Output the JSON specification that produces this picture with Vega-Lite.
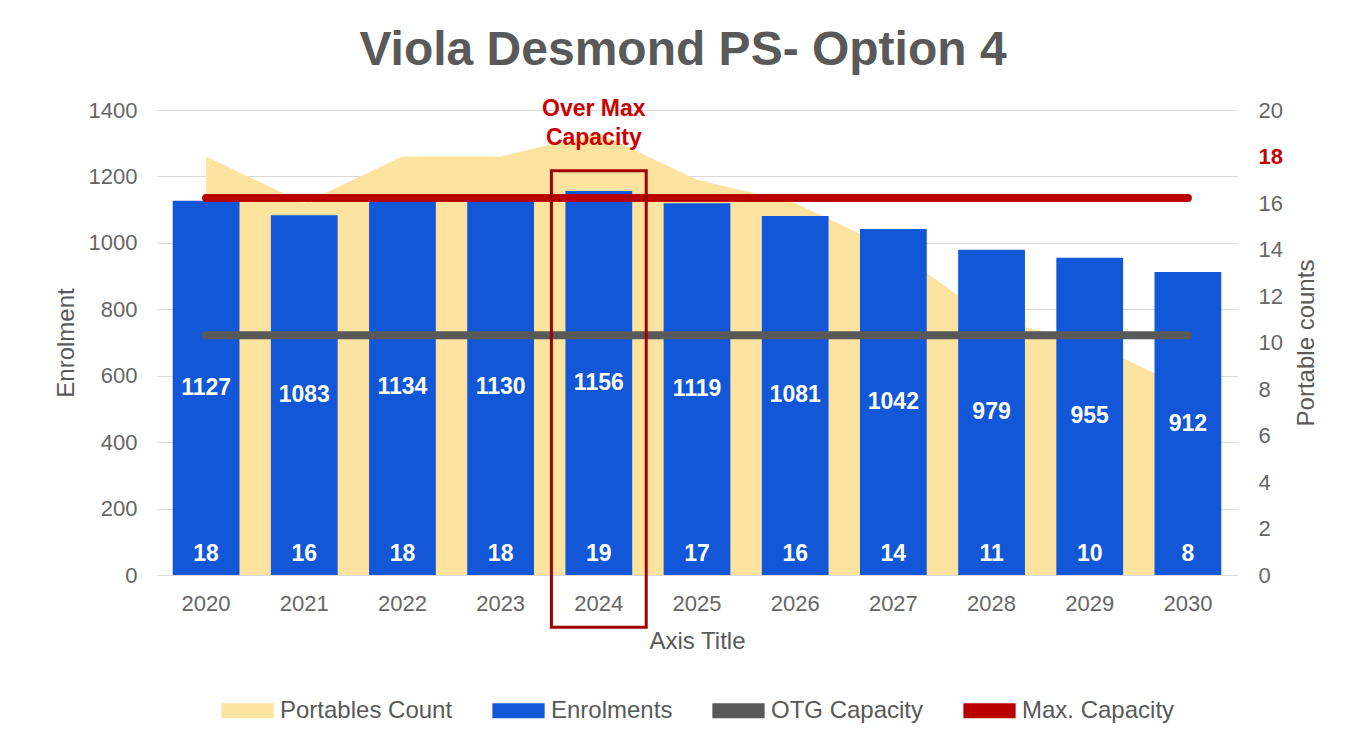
{
  "$schema": "https://vega.github.io/schema/vega-lite/v6.json",
  "width": 1080,
  "height": 465,
  "autosize": {"type": "none"},
  "padding": {"left": 157, "top": 110, "right": 114, "bottom": 171},
  "background": "white",
  "config": {
    "font": "Liberation Sans",
    "view": {"stroke": null},
    "axis": {"labelFont": "Liberation Sans", "titleFont": "Liberation Sans", "labelColor": "#666666", "titleColor": "#595959", "titleFontWeight": "normal", "domain": false, "ticks": false},
    "legend": {"labelFont": "Liberation Sans", "labelFontSize": 24, "labelColor": "#595959", "labelLimit": 400, "orient": "bottom", "direction": "horizontal", "symbolSize": 3025, "symbolStrokeWidth": 0, "labelOffset": 5, "columnPadding": 38, "offset": 30, "title": null, "layout": {"anchor": "middle"}}
  },
  "title": {
    "text": "Viola Desmond PS- Option 4",
    "font": "Liberation Sans",
    "fontSize": 48,
    "fontWeight": "bold",
    "color": "#595959",
    "anchor": "middle",
    "frame": "group",
    "dx": -14,
    "offset": 23
  },
  "datasets": {
    "years": [
      {"year": "2020", "enrol": 1127, "portables": 18},
      {"year": "2021", "enrol": 1083, "portables": 16},
      {"year": "2022", "enrol": 1134, "portables": 18},
      {"year": "2023", "enrol": 1130, "portables": 18},
      {"year": "2024", "enrol": 1156, "portables": 19},
      {"year": "2025", "enrol": 1119, "portables": 17},
      {"year": "2026", "enrol": 1081, "portables": 16},
      {"year": "2027", "enrol": 1042, "portables": 14},
      {"year": "2028", "enrol": 979, "portables": 11},
      {"year": "2029", "enrol": 955, "portables": 10},
      {"year": "2030", "enrol": 912, "portables": 8}
    ],
    "caps": [
      {"year": "2020", "series": "OTG Capacity", "value": 722},
      {"year": "2021", "series": "OTG Capacity", "value": 722},
      {"year": "2022", "series": "OTG Capacity", "value": 722},
      {"year": "2023", "series": "OTG Capacity", "value": 722},
      {"year": "2024", "series": "OTG Capacity", "value": 722},
      {"year": "2025", "series": "OTG Capacity", "value": 722},
      {"year": "2026", "series": "OTG Capacity", "value": 722},
      {"year": "2027", "series": "OTG Capacity", "value": 722},
      {"year": "2028", "series": "OTG Capacity", "value": 722},
      {"year": "2029", "series": "OTG Capacity", "value": 722},
      {"year": "2030", "series": "OTG Capacity", "value": 722},
      {"year": "2020", "series": "Max. Capacity", "value": 1135},
      {"year": "2021", "series": "Max. Capacity", "value": 1135},
      {"year": "2022", "series": "Max. Capacity", "value": 1135},
      {"year": "2023", "series": "Max. Capacity", "value": 1135},
      {"year": "2024", "series": "Max. Capacity", "value": 1135},
      {"year": "2025", "series": "Max. Capacity", "value": 1135},
      {"year": "2026", "series": "Max. Capacity", "value": 1135},
      {"year": "2027", "series": "Max. Capacity", "value": 1135},
      {"year": "2028", "series": "Max. Capacity", "value": 1135},
      {"year": "2029", "series": "Max. Capacity", "value": 1135},
      {"year": "2030", "series": "Max. Capacity", "value": 1135}
    ],
    "notes": [
      {"year": "2024", "label": "Over Max\nCapacity"}
    ]
  },
  "encoding": {
    "x": {
      "field": "year",
      "type": "ordinal",
      "title": "Axis Title",
      "scale": {"paddingInner": 0.32, "paddingOuter": 0.16},
      "axis": {"labelAngle": 0, "labelFontSize": 22, "labelPadding": 18, "titleFontSize": 24, "titlePadding": 15}
    }
  },
  "layer": [
    {
      "data": {"name": "years"},
      "mark": {"type": "area", "color": "#fce3a0", "opacity": 1},
      "encoding": {
        "y": {
          "field": "portables",
          "type": "quantitative",
          "title": "Portable counts",
          "scale": {"domain": [0, 20], "nice": false},
          "axis": {
            "orient": "right",
            "values": [0, 2, 4, 6, 8, 10, 12, 14, 16, 18, 20],
            "grid": false,
            "labelFontSize": 22,
            "labelPadding": 21,
            "labelColor": {"condition": {"test": "datum.value == 18", "value": "#c00000"}, "value": "#666666"},
            "labelFontWeight": {"condition": {"test": "datum.value == 18", "value": "bold"}, "value": "normal"},
            "titleFontSize": 24,
            "titleAngle": -90,
            "titleBaseline": "top",
            "titlePadding": 12
          }
        },
        "color": {
          "datum": "Portables Count",
          "type": "nominal",
          "scale": {"domain": ["Portables Count", "Enrolments", "OTG Capacity", "Max. Capacity"], "range": ["#fce3a0", "#1157d8", "#595959", "#b80000"]},
          "legend": {
            "symbolType": "M-0.95,-0.27H0.95V0.27H-0.95Z",
            "encode": {
              "symbols": {
                "enter": {
                  "shape": {"signal": "datum.value == 'OTG Capacity' || datum.value == 'Max. Capacity' ? 'M-1,-0.14H1V0.14H-1Z' : 'M-0.95,-0.27H0.95V0.27H-0.95Z'"}
                },
                "update": {
                  "shape": {"signal": "datum.value == 'OTG Capacity' || datum.value == 'Max. Capacity' ? 'M-1,-0.14H1V0.14H-1Z' : 'M-0.95,-0.27H0.95V0.27H-0.95Z'"}
                }
              }
            }
          }
        }
      }
    },
    {
      "layer": [
        {
          "data": {"name": "years"},
          "mark": {"type": "bar", "color": "#1157d8"},
          "encoding": {
            "y": {
              "field": "enrol",
              "type": "quantitative",
              "title": "Enrolment",
              "scale": {"domain": [0, 1400], "nice": false},
              "axis": {
                "orient": "left",
                "values": [0, 200, 400, 600, 800, 1000, 1200, 1400],
                "format": "d",
                "grid": true,
                "gridColor": "#d9d9d9",
                "labelFontSize": 22,
                "labelPadding": 20,
                "titleFontSize": 24,
                "titlePadding": 10
              }
            },
            "color": {"datum": "Enrolments", "type": "nominal"}
          }
        },
        {
          "data": {"name": "caps"},
          "mark": {"type": "line", "strokeWidth": 8, "strokeCap": "round"},
          "encoding": {
            "y": {"field": "value", "type": "quantitative", "title": "Enrolment"},
            "color": {"field": "series", "type": "nominal"},
            "detail": {"field": "series"}
          }
        },
        {
          "data": {"name": "years"},
          "mark": {"type": "text", "color": "white", "fontSize": 23, "fontWeight": "bold", "baseline": "middle"},
          "encoding": {
            "y": {"datum": 62, "type": "quantitative", "title": "Enrolment"},
            "text": {"field": "portables", "type": "quantitative"}
          }
        },
        {
          "data": {"name": "notes"},
          "mark": {"type": "bar", "fill": null, "fillOpacity": 0, "stroke": "#a00000", "strokeWidth": 3, "width": {"band": 1.42}},
          "encoding": {
            "y": {"datum": 1217, "type": "quantitative", "title": "Enrolment"},
            "y2": {"datum": -157}
          }
        },
        {
          "data": {"name": "notes"},
          "mark": {"type": "text", "color": "#cc0000", "fontSize": 23, "fontWeight": "bold", "baseline": "middle", "lineBreak": "\n", "lineHeight": 29, "dx": -5},
          "encoding": {
            "y": {"datum": 1403, "type": "quantitative", "title": "Enrolment"},
            "text": {"field": "label", "type": "nominal"}
          }
        }
      ]
    },
    {
      "data": {"name": "years"},
      "mark": {"type": "text", "color": "white", "fontSize": 23, "fontWeight": "bold", "baseline": "middle"},
      "encoding": {
        "y": {"field": "enrol", "type": "quantitative", "scale": {"domain": [0, 2800], "nice": false}, "axis": null},
        "text": {"field": "enrol", "type": "quantitative"}
      }
    }
  ],
  "resolve": {"scale": {"y": "independent"}}
}
